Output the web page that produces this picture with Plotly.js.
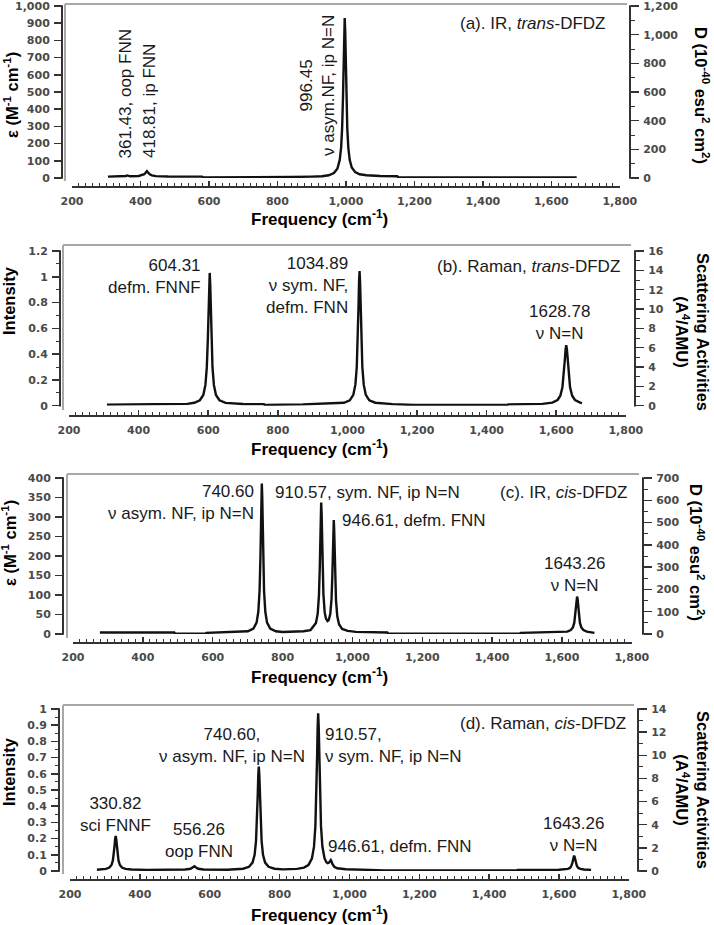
<!DOCTYPE html>
<html>
<head>
<meta charset="utf-8">
<script src="https://cdn.plot.ly/plotly-3.0.1.min.js"></script>
<style>html,body{margin:0;padding:0;background:#fff}#chart{width:714px;height:925px}</style>
</head>
<body>
<div id="chart"></div>
<script>
// (a) IR trans-DFDZ, epsilon (M-1 cm-1)
let freqA = [305, 340, 354, 358, 361.4, 365, 370, 395, 405, 411, 415, 418.8, 422.5, 427, 433, 445, 480, 580, 583, 700, 838, 842, 900, 930, 950, 965, 975, 982, 986, 989, 991.5, 993.5, 995, 996.45, 998, 999.5, 1001.5, 1004, 1007, 1011, 1017, 1027, 1040, 1060, 1100, 1150, 1153, 1300, 1500, 1674];
let epsA = [8, 9, 10, 12, 15, 12, 10, 12, 16, 22, 31, 40, 31, 21, 15, 11, 9, 8, 3, 3, 4, 6, 8, 10, 16, 29, 54, 105, 178, 293, 473, 692, 859, 930, 850, 680, 464, 288, 177, 106, 61, 34, 22, 16, 12, 10, 3, 3, 3, 3];

// (b) Raman trans-DFDZ, intensity
let freqB = [309, 445, 447, 540, 560, 576, 586, 592, 596, 599, 601.3, 602.8, 604.31, 605.8, 607.3, 609.3, 612.3, 616.3, 622.3, 632.3, 650, 700, 760, 762, 870, 872, 990, 1006.9, 1016.9, 1022.9, 1026.9, 1029.9, 1031.9, 1033.4, 1034.89, 1036.4, 1037.9, 1039.9, 1042.9, 1046.9, 1052.9, 1062.9, 1080, 1130, 1190, 1192, 1460, 1462, 1560, 1588.8, 1603.8, 1611.8, 1617.8, 1621.8, 1624.8, 1626.8, 1628.78, 1630.8, 1632.8, 1635.8, 1639.8, 1645.8, 1653.8, 1668.8, 1674];
let intB = [0.008, 0.008, 0.012, 0.014, 0.023, 0.042, 0.083, 0.161, 0.297, 0.52, 0.76, 0.945, 1.03, 0.945, 0.76, 0.52, 0.297, 0.161, 0.083, 0.042, 0.022, 0.013, 0.012, 0.006, 0.006, 0.01, 0.023, 0.042, 0.084, 0.163, 0.3, 0.527, 0.771, 0.959, 1.045, 0.959, 0.771, 0.527, 0.3, 0.163, 0.084, 0.042, 0.023, 0.012, 0.01, 0.005, 0.005, 0.01, 0.014, 0.024, 0.044, 0.077, 0.142, 0.24, 0.357, 0.435, 0.47, 0.435, 0.357, 0.24, 0.142, 0.077, 0.044, 0.024, 0.02];

// (c) IR cis-DFDZ, epsilon
let freqC = [277, 490, 492, 580, 582, 690, 700.6, 716.6, 725.6, 730.6, 734.2, 736.6, 738.2, 739.4, 740.6, 741.8, 743, 744.6, 747, 750.6, 755.6, 764.6, 780.6, 800, 860, 880, 895.6, 900.6, 904.2, 906.6, 908.2, 909.4, 910.57, 911.8, 913, 914.6, 917, 920.6, 924, 928.6, 932, 936.6, 940.2, 942.6, 944.2, 945.4, 946.61, 947.8, 949, 950.6, 953, 956.6, 961.6, 970.6, 986.6, 1010, 1100, 1102, 1480, 1482, 1600, 1615.3, 1625.3, 1631.3, 1635.3, 1638.3, 1640.3, 1641.8, 1643.26, 1644.8, 1646.3, 1648.3, 1651.3, 1655.3, 1661.3, 1671.3, 1693];
let epsC = [4, 4, 1, 1, 3, 5, 7, 14, 29, 57, 111, 195, 285, 354, 386, 354, 285, 195, 111, 57, 29, 14, 7, 5, 7, 10, 28, 52, 99, 172, 249, 309, 337, 310, 250, 173, 102, 56, 40, 33, 35, 51, 90, 151, 217, 269, 292, 268, 216, 149, 87, 46, 25, 13, 8, 5.5, 4, 1, 1, 3, 4, 6, 10, 17, 29, 50, 72, 89, 96, 89, 72, 50, 29, 17, 10, 6, 3];

// (d) Raman cis-DFDZ, intensity
let freqD = [277, 285.8, 302.8, 312.8, 318.8, 322.8, 325.8, 327.8, 329.3, 330.82, 332.3, 333.8, 335.8, 338.8, 342.8, 348.8, 358.8, 375.8, 420, 530, 545, 551, 556.26, 561, 567, 582, 650, 695.6, 712.6, 722.6, 728.6, 732.6, 735.6, 737.6, 739.1, 740.6, 742.1, 743.6, 745.6, 748.6, 752.6, 758.6, 768.6, 785.6, 810, 850, 870, 882.6, 892.6, 898.6, 902.6, 905.6, 907.6, 909.1, 910.57, 912.1, 913.6, 915.6, 918.6, 922.6, 928.6, 934, 938, 941.6, 944.6, 946.61, 948.6, 951.6, 956.6, 965, 990, 1050, 1100, 1102, 1480, 1482, 1600, 1615.3, 1625.3, 1631.3, 1635.3, 1638.3, 1640.3, 1641.8, 1643.26, 1644.8, 1646.3, 1648.3, 1651.3, 1655.3, 1661.3, 1671.3, 1692];
let intD = [0.008, 0.009, 0.013, 0.021, 0.037, 0.065, 0.111, 0.16, 0.199, 0.216, 0.199, 0.16, 0.111, 0.065, 0.037, 0.021, 0.013, 0.009, 0.007, 0.009, 0.014, 0.021, 0.03, 0.021, 0.014, 0.009, 0.008, 0.014, 0.026, 0.052, 0.1, 0.185, 0.325, 0.475, 0.591, 0.644, 0.591, 0.475, 0.325, 0.185, 0.1, 0.052, 0.026, 0.014, 0.01, 0.013, 0.021, 0.037, 0.076, 0.15, 0.278, 0.49, 0.717, 0.893, 0.973, 0.893, 0.718, 0.491, 0.28, 0.151, 0.079, 0.054, 0.048, 0.052, 0.064, 0.068, 0.06, 0.042, 0.026, 0.017, 0.011, 0.008, 0.008, 0.004, 0.004, 0.007, 0.008, 0.009, 0.013, 0.019, 0.031, 0.05, 0.071, 0.087, 0.095, 0.087, 0.071, 0.05, 0.031, 0.019, 0.013, 0.009, 0.007];

let leftTitles = ['ε (M<sup>-1</sup> cm<sup>-1</sup>)', 'Intensity', 'ε (M<sup>-1</sup> cm<sup>-1</sup>)', 'Intensity'];
let rightTitles = ['D (10<sup>-40</sup> esu<sup>2</sup> cm<sup>2</sup>)', 'Scattering Activities<br>(A<sup>4</sup>/AMU)', 'D (10<sup>-40</sup> esu<sup>2</sup> cm<sup>2</sup>)', 'Scattering Activities<br>(A<sup>4</sup>/AMU)'];
let xTitle = 'Frequency (cm<sup>-1</sup>)';

let W = 714, H = 925;
function px(x) { return x / W; }
function py(y) { return 1 - y / H; }

// pixel geometry of each panel (yTop = pixel row of the top tick)
let panels = [
	{ fx: freqA, fy: epsA, xL: 72, xR: 620, yTop: 6, yBot: 178, xAxisY: 187, lAx: 62, rAx: 630,
	  fL: 65, fT: 4, fR: 627, fB: 181, lMax: 1000, lDt: 100, lMinor: null, rMax: 1200, rDt: 200, rMinor: 100,
	  lTitle: [11, 95], rTitle: [702, 95], xTitleY: 218 },
	{ fx: freqB, fy: intB, xL: 69, xR: 626, yTop: 251, yBot: 405.7, xAxisY: 416, lAx: 60, rAx: 635,
	  fL: 63, fT: 245, fR: 631, fB: 410, lMax: 1.2, lDt: 0.2, lMinor: 0.1, rMax: 16, rDt: 2, rMinor: 1,
	  lTitle: [9, 301], rTitle: [693, 332], xTitleY: 448 },
	{ fx: freqC, fy: epsC, xL: 73, xR: 632, yTop: 478, yBot: 634, xAxisY: 643, lAx: 63, rAx: 643,
	  fL: 67, fT: 474, fR: 639, fB: 638, lMax: 400, lDt: 50, lMinor: null, rMax: 700, rDt: 100, rMinor: 50,
	  lTitle: [9, 543], rTitle: [697, 552], xTitleY: 676 },
	{ fx: freqD, fy: intD, xL: 70, xR: 629, yTop: 709, yBot: 871, xAxisY: 880, lAx: 59, rAx: 638,
	  fL: 63, fT: 705, fR: 634, fB: 874, lMax: 1, lDt: 0.1, lMinor: 0.05, rMax: 14, rDt: 2, rMinor: 1,
	  lTitle: [9, 772], rTitle: [693, 790], xTitleY: 914 }
];
let headroom = 1.01;

let tickFont = { family: 'DejaVu Sans, Verdana, sans-serif', size: 11, color: '#4a4a4a', weight: 700 };
let annFont = { family: 'Liberation Sans, Arial, sans-serif', size: 17, color: '#1a1a1a' };
let titleFont = { family: 'Liberation Sans, Arial, sans-serif', size: 16.5, color: '#000' };
let axColor = '#333';

let data = [];
let layout = {
	width: W, height: H,
	margin: { l: 0, r: 0, t: 0, b: 0 },
	paper_bgcolor: '#fff', plot_bgcolor: '#fff',
	showlegend: false,
	shapes: [], annotations: []
};

function yAxisBase(max, dt, minor) {
	let ax = {
		range: [0, max * headroom], tickmode: 'linear', tick0: 0, dtick: dt,
		ticks: 'outside', ticklen: 8, tickwidth: 1.5, tickcolor: axColor,
		ticklabelstandoff: 2,
		showline: false, ticklabeloverflow: 'allow',
		showgrid: false, zeroline: false, tickformat: ',', tickfont: tickFont,
		tickprefix: '<b>', ticksuffix: '</b>',
		fixedrange: true
	};
	if (minor) ax.minor = { ticks: 'outside', dtick: minor, ticklen: 4, tickwidth: 1, tickcolor: axColor, showgrid: false };
	return ax;
}

function ann(text, x, y, opts) {
	let a = { text: text, x: px(x), y: py(y), xref: 'paper', yref: 'paper', showarrow: false, font: annFont, xanchor: 'center', yanchor: 'middle' };
	for (k in opts) a[k] = opts[k];
	layout.annotations.push(a);
}

function vline(x, y0, y1, color, w) {
	layout.shapes.push({ type: 'line', xref: 'paper', yref: 'paper', x0: px(x), x1: px(x), y0: py(y0), y1: py(y1), line: { color: color, width: w } });
}

for (i = 0; i < panels.length; i++) {
	let p = panels[i];
	let xid = i == 0 ? 'x' : 'x' + (i + 1);
	let ylid = i == 0 ? 'y' : 'y' + (2 * i + 1);
	let yrid = 'y' + (2 * i + 2);
	let domTop = p.yBot - (p.yBot - p.yTop) * headroom;

	data.push({ type: 'scatter', mode: 'lines', x: p.fx, y: p.fy, xaxis: xid, yaxis: ylid,
		line: { color: '#111', width: 2.4 }, hoverinfo: 'x+y' });
	data.push({ type: 'scatter', mode: 'lines', x: [null], y: [null], xaxis: xid, yaxis: yrid, hoverinfo: 'skip' });

	layout['xaxis' + (i == 0 ? '' : i + 1)] = {
		domain: [px(p.xL), px(p.xR)], range: [200, 1800.5], anchor: 'free', position: py(p.xAxisY),
		tickmode: 'linear', tick0: 200, dtick: 200,
		ticks: 'inside', ticklen: 5, tickwidth: 1.5, tickcolor: axColor,
		minor: { ticks: 'inside', dtick: 20, ticklen: 3, tickwidth: 1, tickcolor: axColor, showgrid: false },
		showline: true, linecolor: axColor, linewidth: 2, ticklabeloverflow: 'allow',
		ticklabelstandoff: 4,
		showgrid: false, zeroline: false, tickformat: ',', tickfont: tickFont,
		tickprefix: '<b>', ticksuffix: '</b>', fixedrange: true
	};

	let yl = yAxisBase(p.lMax, p.lDt, p.lMinor);
	yl.domain = [py(p.yBot), py(domTop)];
	yl.anchor = 'free';
	yl.position = px(p.lAx);
	yl.side = 'left';
	layout['yaxis' + (i == 0 ? '' : 2 * i + 1)] = yl;

	let yr = yAxisBase(p.rMax, p.rDt, p.rMinor);
	yr.overlaying = ylid;
	yr.anchor = 'free';
	yr.position = px(p.rAx);
	yr.side = 'right';
	layout['yaxis' + (2 * i + 2)] = yr;

	// axis spines from the 0 tick to the top tick
	vline(p.lAx, p.yBot + 0.75, p.yTop - 0.75, axColor, 2);
	vline(p.rAx, p.yBot + 0.75, p.yTop - 0.75, axColor, 2);

	// grey frame, left and top edges
	vline(p.fL, p.fB, p.fT, '#a8a8a8', 2);
	layout.shapes.push({ type: 'line', xref: 'paper', yref: 'paper', x0: px(p.fL), x1: px(p.fR), y0: py(p.fT), y1: py(p.fT), line: { color: '#a8a8a8', width: 2 } });

	ann('<b>' + leftTitles[i] + '</b>', p.lTitle[0], p.lTitle[1], { textangle: -90, font: titleFont });
	ann('<b>' + rightTitles[i] + '</b>', p.rTitle[0], p.rTitle[1], { textangle: 90, font: titleFont });
	ann('<b>' + xTitle + '</b>', 319, p.xTitleY, { font: { family: titleFont.family, size: 17, color: '#000' } });
}

// (a)
ann('(a). IR, <i>trans</i>-DFDZ', 607, 24, { xanchor: 'right' });
ann('361.43, oop FNN', 125, 160, { textangle: -90, yanchor: 'bottom' });
ann('418.81, ip FNN', 149, 160, { textangle: -90, yanchor: 'bottom' });
ann('996.45<br>ν asym.NF, ip N=N', 318, 86, { textangle: -90 });
// (b)
ann('604.31<br>defm. FNNF', 203, 276, { xanchor: 'right', align: 'right' });
ann('1034.89<br>ν sym. NF,<br>defm. FNN', 350, 286, { xanchor: 'right', align: 'right' });
ann('1628.78<br>ν N=N', 559, 322, {});
ann('(b). Raman, <i>trans</i>-DFDZ', 622, 267, { xanchor: 'right' });
// (c)
ann('740.60<br>ν asym. NF, ip N=N', 256, 502.5, { xanchor: 'right', align: 'right' });
ann('910.57, sym. NF, ip N=N', 273, 492, { xanchor: 'left' });
ann('946.61, defm. FNN', 340, 520, { xanchor: 'left' });
ann('(c). IR, <i>cis</i>-DFDZ', 629, 492, { xanchor: 'right' });
ann('1643.26<br>ν N=N', 574, 574.5, {});
// (d)
ann('330.82<br>sci FNNF', 115, 814.5, {});
ann('556.26<br>oop FNN', 199, 840.5, {});
ann('740.60,<br>ν asym. NF, ip N=N', 232, 745.5, {});
ann('910.57,<br>ν sym. NF, ip N=N', 323, 745.5, { xanchor: 'left', align: 'left' });
ann('946.61, defm. FNN', 326, 846, { xanchor: 'left' });
ann('1643.26<br>ν N=N', 573, 834.5, {});
ann('(d). Raman, <i>cis</i>-DFDZ', 628, 723, { xanchor: 'right' });

Plotly.newPlot(document.getElementById('chart'), data, layout, { displayModeBar: false, staticPlot: true });
</script>
</body>
</html>
